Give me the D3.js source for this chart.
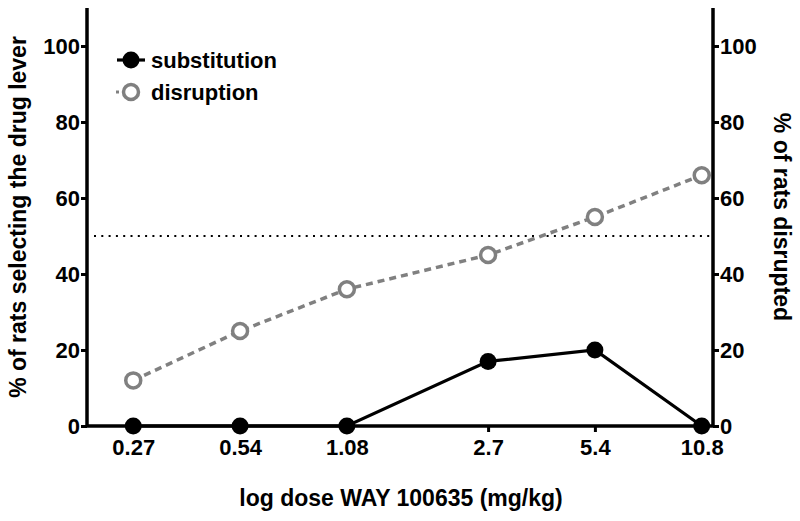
<!DOCTYPE html>
<html><head><meta charset="utf-8">
<script src="https://cdn.jsdelivr.net/npm/d3@7"></script>
<style>body{margin:0;background:#fff}svg{display:block}text{font-family:"Liberation Sans",Arial,sans-serif;font-weight:bold}</style>
</head><body><svg id="c" width="800" height="521"></svg>
<script>
const doses = [0.27, 0.54, 1.08, 2.7, 5.4, 10.8];
const doseLabels = ["0.27", "0.54", "1.08", "2.7", "5.4", "10.8"];
const substitution = [0, 0, 0, 17, 20, 0];
const disruption = [12, 25, 36, 45, 55, 66];
const yTicks = [0, 20, 40, 60, 80, 100];
const threshold = 50;

const svg = d3.select("#c");
const L = 87, R = 713, T = 8, B = 426;
const x = d3.scaleLog().domain([0.2, 11.62]).range([L, R]);
const y = d3.scaleLinear().domain([0, 110]).range([B, T]);

// threshold dotted line
svg.append("line").attr("x1", L + 7).attr("x2", R - 3)
  .attr("y1", y(threshold)).attr("y2", y(threshold))
  .attr("stroke", "#000").attr("stroke-width", 2.2).attr("stroke-dasharray", "2,5.3");

// axes
const fs = "22px";
const ts = "23px";
const yl = svg.append("g").attr("transform", `translate(${L},0)`)
  .call(d3.axisLeft(y).tickValues(yTicks).tickSize(6).tickPadding(1));
const yr = svg.append("g").attr("transform", `translate(${R},0)`)
  .call(d3.axisRight(y).tickValues(yTicks).tickSize(6).tickPadding(1));
const xa = svg.append("g").attr("transform", `translate(0,${B})`)
  .call(d3.axisBottom(x).tickValues(doses).tickFormat((d, i) => doseLabels[i]).tickSize(6).tickPadding(7));
[yl, yr, xa].forEach(g => {
  g.select(".domain").attr("stroke", "#000").attr("stroke-width", 3.5);
  g.selectAll(".tick line").attr("stroke", "#000").attr("stroke-width", 3);
  g.selectAll(".tick text").attr("fill", "#000").style("font-size", fs)
    .style("font-family", '"Liberation Sans",Arial,sans-serif').style("font-weight", "bold");
});
yl.select(".domain").attr("d", `M0,${B}V${T}`);
yr.select(".domain").attr("d", `M0,${B}V${T}`);
xa.select(".domain").attr("d", `M${L},0H${R}`);

// disruption series
const line = d3.line().x((d, i) => x(doses[i])).y(d => y(d));
svg.append("path").datum(disruption).attr("d", line).attr("fill", "none")
  .attr("stroke", "#808080").attr("stroke-width", 3.5).attr("stroke-dasharray", "7,5");
svg.selectAll("circle.dis").data(disruption).join("circle").attr("class", "dis")
  .attr("cx", (d, i) => x(doses[i])).attr("cy", d => y(d)).attr("r", 7.5)
  .attr("fill", "#fff").attr("stroke", "#808080").attr("stroke-width", 3.5);

// substitution series
svg.append("path").datum(substitution).attr("d", line).attr("fill", "none")
  .attr("stroke", "#000").attr("stroke-width", 3.2);
svg.selectAll("circle.sub").data(substitution).join("circle").attr("class", "sub")
  .attr("cx", (d, i) => x(doses[i])).attr("cy", d => y(d)).attr("r", 8.5)
  .attr("fill", "#000");

// legend
const lg = svg.append("g");
lg.append("line").attr("x1", 117).attr("x2", 145).attr("y1", 60).attr("y2", 60).attr("stroke", "#000").attr("stroke-width", 3.2);
lg.append("circle").attr("cx", 131).attr("cy", 60).attr("r", 8.5).attr("fill", "#000");
lg.append("text").attr("x", 151).attr("y", 68).style("font-size", fs).text("substitution");
lg.append("line").attr("x1", 116).attr("x2", 119).attr("y1", 92).attr("y2", 92).attr("stroke", "#808080").attr("stroke-width", 3);
lg.append("circle").attr("cx", 131).attr("cy", 92).attr("r", 7.5).attr("fill", "#fff").attr("stroke", "#808080").attr("stroke-width", 3.5);
lg.append("text").attr("x", 151).attr("y", 100).style("font-size", fs).text("disruption");

// axis titles
svg.append("text").attr("transform", `translate(26,217) rotate(-90)`).attr("text-anchor", "middle")
  .style("font-size", ts).text("% of rats selecting the drug lever");
svg.append("text").attr("transform", `translate(774,217) rotate(90)`).attr("text-anchor", "middle")
  .style("font-size", ts).text("% of rats disrupted");
svg.append("text").attr("x", 401).attr("y", 506).attr("text-anchor", "middle")
  .style("font-size", ts).text("log dose WAY 100635 (mg/kg)");
</script></body></html>
